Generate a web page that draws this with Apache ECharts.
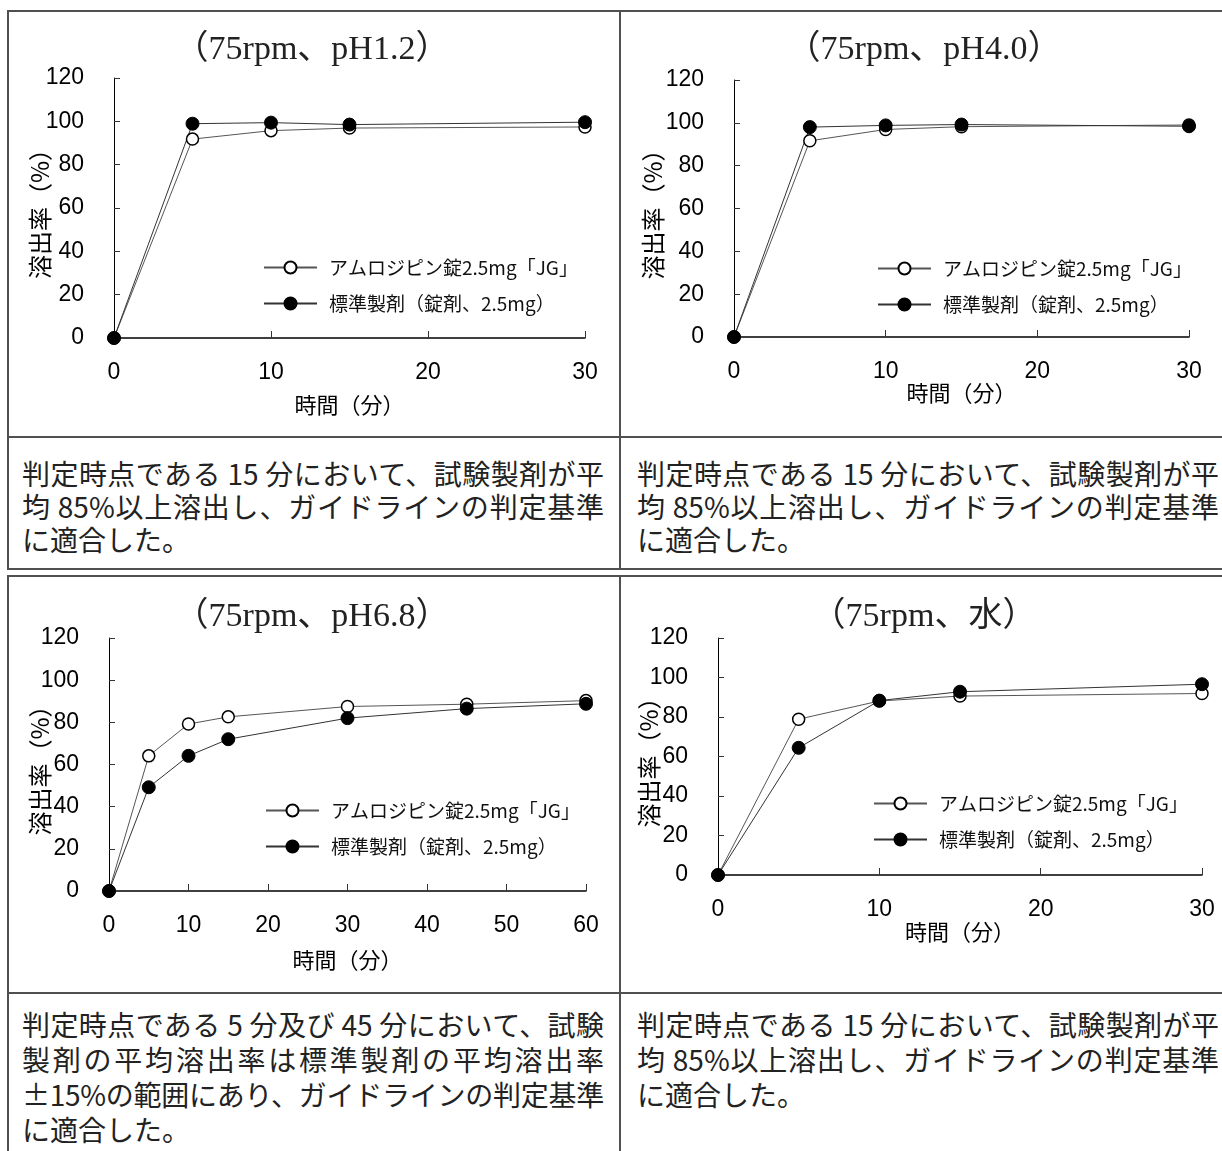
<!DOCTYPE html>
<html>
<head>
<meta charset="utf-8">
<script src="https://cdn.jsdelivr.net/npm/echarts@6/dist/echarts.min.js"></script>
<style>
html, body { margin: 0; padding: 0; background: #fff; overflow: hidden; }
.page { position: relative; width: 1222px; height: 1151px; overflow: hidden; }
.hline { position: absolute; height: 2px; background: #505050; }
.vline { position: absolute; width: 2px; background: #505050; }
.note {
  position: absolute;
  font-family: "Noto Sans CJK JP", sans-serif;
  font-size: 28px;
  color: #222;
  white-space: nowrap;
}
.note .full { display: block; width: 582px; text-align: justify; text-align-last: justify; }
.note .last { display: block; }
#chart { position: absolute; left: 0; top: 0; width: 1222px; height: 1151px; }
</style>
</head>
<body>
<div class="page">
  <!-- upper table -->
  <div class="hline" style="left:7px; top:10px; width:1300px;"></div>
  <div class="hline" style="left:7px; top:436px; width:1300px;"></div>
  <div class="hline" style="left:7px; top:568px; width:1300px;"></div>
  <div class="vline" style="left:7px; top:10px; height:560px;"></div>
  <div class="vline" style="left:619px; top:10px; height:560px;"></div>
  <!-- lower table -->
  <div class="hline" style="left:7px; top:575px; width:1300px;"></div>
  <div class="hline" style="left:7px; top:992px; width:1300px;"></div>
  <div class="vline" style="left:7px; top:575px; height:600px;"></div>
  <div class="vline" style="left:619px; top:575px; height:600px;"></div>

  <div class="note" style="left:22px; top:457px; line-height:33px;">
    <span class="full">判定時点である 15 分において、試験製剤が平</span>
    <span class="full">均 85%以上溶出し、ガイドラインの判定基準</span>
    <span class="last">に適合した。</span>
  </div>
  <div class="note" style="left:637px; top:457px; line-height:33px;">
    <span class="full">判定時点である 15 分において、試験製剤が平</span>
    <span class="full">均 85%以上溶出し、ガイドラインの判定基準</span>
    <span class="last">に適合した。</span>
  </div>
  <div class="note" style="left:22px; top:1007px; line-height:35px;">
    <span class="full">判定時点である 5 分及び 45 分において、試験</span>
    <span class="full">製剤の平均溶出率は標準製剤の平均溶出率</span>
    <span class="full" style="letter-spacing:-0.3px;">±15%の範囲にあり、ガイドラインの判定基準</span>
    <span class="last">に適合した。</span>
  </div>
  <div class="note" style="left:637px; top:1007px; line-height:35px;">
    <span class="full">判定時点である 15 分において、試験製剤が平</span>
    <span class="full">均 85%以上溶出し、ガイドラインの判定基準</span>
    <span class="last">に適合した。</span>
  </div>

  <div id="chart"></div>
</div>
<script>
var testName = 'アムロジピン錠2.5mg「JG」';
var refName = '標準製剤（錠剤、2.5mg）';

var times30 = [0, 5, 10, 15, 30];
var times60 = [0, 5, 10, 15, 30, 45, 60];

// pH1.2
var ph12Test = [0, 91.8, 95.7, 96.9, 97.4];
var ph12Ref = [0, 98.9, 99.4, 98.5, 99.6];
// pH4.0
var ph40Test = [0, 91.6, 96.9, 98.2, 99.0];
var ph40Ref = [0, 98.0, 98.8, 99.2, 98.4];
// pH6.8
var ph68Test = [0, 64.1, 79.2, 82.6, 87.5, 88.6, 90.3];
var ph68Ref = [0, 49.2, 64.1, 72.0, 82.0, 86.5, 88.8];
// 水
var waterTest = [0, 78.9, 88.1, 90.6, 91.9];
var waterRef = [0, 64.4, 88.3, 92.8, 96.6];

var xTicks30 = [0, 10, 20, 30];
var xTicks60 = [0, 10, 20, 30, 40, 50, 60];
var yTicks = [0, 20, 40, 60, 80, 100, 120];

var panels = [
  { title: '（75rpm、pH1.2）', tx: 312, ty: 33, grid: { left: 114, top: 78, width: 471, height: 260 },
    times: times30, test: ph12Test, ref: ph12Ref, ticks: xTicks30,
    legend: { left: 263, top: 258 }, xNameGap: 56, yNameGap: 62 },
  { title: '（75rpm、pH4.0）', tx: 924, ty: 33, grid: { left: 734, top: 80, width: 455, height: 257 },
    times: times30, test: ph40Test, ref: ph40Ref, ticks: xTicks30,
    legend: { left: 877, top: 259 }, xNameGap: 45, yNameGap: 69 },
  { title: '（75rpm、pH6.8）', tx: 312, ty: 600, grid: { left: 109, top: 638, width: 477, height: 253 },
    times: times60, test: ph68Test, ref: ph68Ref, ticks: xTicks60,
    legend: { left: 265, top: 801 }, xNameGap: 58, yNameGap: 57 },
  { title: '（75rpm、水）', tx: 924, ty: 600, grid: { left: 718, top: 638, width: 484, height: 237 },
    times: times30, test: waterTest, ref: waterRef, ticks: xTicks30,
    legend: { left: 873, top: 794 }, xNameGap: 46, yNameGap: 57 }
];

function pairs(xs, ys) {
  return xs.map(function (x, i) { return [x, ys[i]]; });
}

var sansFont = 'Liberation Sans, Noto Sans CJK JP, sans-serif';
var cjkFont = 'Noto Sans CJK JP, sans-serif';

var option = {
  animation: false,
  title: [],
  legend: [],
  grid: [],
  xAxis: [],
  yAxis: [],
  series: []
};

panels.forEach(function (p, i) {
  var ticks = p.ticks;
  option.title.push({
    text: p.title,
    left: p.tx,
    top: p.ty,
    textAlign: 'center',
    padding: 0,
    textStyle: {
      fontFamily: 'Liberation Serif, Noto Sans CJK JP, serif',
      fontSize: 34,
      fontWeight: 'normal',
      color: '#222'
    }
  });
  option.legend.push({
    left: p.legend.left,
    top: p.legend.top,
    orient: 'vertical',
    padding: 0,
    itemWidth: 53,
    itemHeight: 15,
    itemGap: 17,
    selectedMode: false,
    data: [testName, refName],
    textStyle: { fontFamily: cjkFont, fontSize: 19, lineHeight: 18, color: '#111', padding: [0, 0, 0, 7] }
  });
  option.grid.push({
    left: p.grid.left,
    top: p.grid.top,
    width: p.grid.width,
    height: p.grid.height,
    containLabel: false
  });
  option.xAxis.push({
    type: 'value',
    gridIndex: i,
    min: ticks[0],
    max: ticks[ticks.length - 1],
    interval: ticks[1] - ticks[0],
    name: '時間（分）',
    nameLocation: 'middle',
    nameGap: p.xNameGap,
    nameMoveOverlap: false,
    nameTextStyle: { fontFamily: cjkFont, fontSize: 22, color: '#000' },
    axisLine: { show: true, onZero: false, lineStyle: { color: '#000', width: 1.5 } },
    axisTick: { show: true, inside: true, length: 7, lineStyle: { color: '#333', width: 1 } },
    axisLabel: { fontFamily: sansFont, fontSize: 23, color: '#000', margin: 23 },
    splitLine: { show: false }
  });
  option.yAxis.push({
    type: 'value',
    gridIndex: i,
    min: yTicks[0],
    max: yTicks[yTicks.length - 1],
    interval: yTicks[1] - yTicks[0],
    name: '溶出率（%）',
    nameLocation: 'middle',
    nameRotate: 90,
    nameGap: p.yNameGap,
    nameMoveOverlap: false,
    nameTextStyle: { fontFamily: cjkFont, fontSize: 24, color: '#000' },
    axisLine: { show: true, onZero: false, lineStyle: { color: '#000', width: 1 } },
    axisTick: { show: true, inside: true, length: 6, lineStyle: { color: '#333', width: 1 } },
    axisLabel: { fontFamily: sansFont, fontSize: 23, color: '#000', margin: 30 },
    splitLine: { show: false }
  });
  option.series.push({
    name: testName,
    type: 'line',
    xAxisIndex: i,
    yAxisIndex: i,
    data: pairs(p.times, p.test),
    symbol: 'circle',
    symbolSize: 12,
    lineStyle: { color: '#555', width: 1 },
    itemStyle: { color: '#fff', borderColor: '#000', borderWidth: 1.5 }
  });
  option.series.push({
    name: refName,
    type: 'line',
    xAxisIndex: i,
    yAxisIndex: i,
    data: pairs(p.times, p.ref),
    symbol: 'circle',
    symbolSize: 13,
    lineStyle: { color: '#333', width: 1 },
    itemStyle: { color: '#000', borderColor: '#000', borderWidth: 1 }
  });
});

var myChart = echarts.init(document.getElementById('chart'), null, { renderer: 'canvas' });
myChart.setOption(option);
</script>
</body>
</html>
